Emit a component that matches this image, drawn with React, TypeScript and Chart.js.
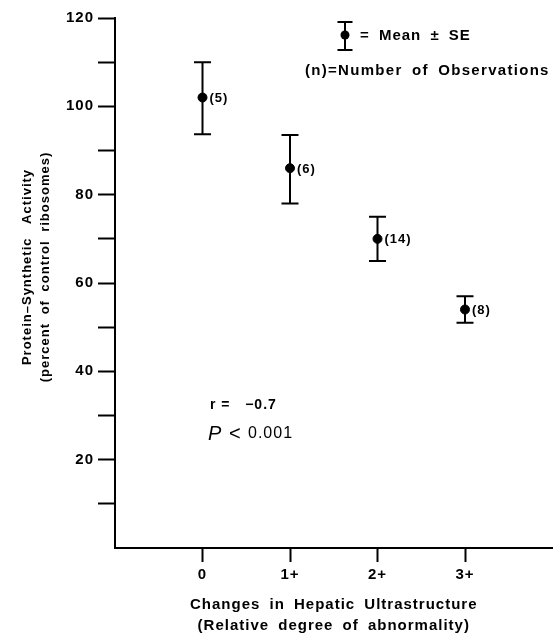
import React, { useEffect, useRef } from 'react';
import { Chart, registerables } from 'chart.js';

Chart.register(...registerables);

const categories = ['0', '1+', '2+', '3+'];
const categoryX = [0, 1, 2, 3];
const meanValues = [102, 86, 70, 54];
const upperValues = [110, 93.5, 75, 57];
const lowerValues = [93.7, 78, 65, 51];
const observationLabels = ['(5)', '(6)', '(14)', '(8)'];
const yTickLabels = [20, 40, 60, 80, 100, 120];

const xTitle = ['Changes in Hepatic Ultrastructure', '(Relative degree of abnormality)'];
const yTitle = ['Protein–Synthetic Activity', '(percent of control ribosomes)'];
const legendLine1 = '= Mean ± SE';
const legendLine2 = '(n)=Number of Observations';
const statR = 'r =   −0.7';
const statP = 'P';
const statLess = '<';
const statPValue = '0.001';

const FONT = '"Liberation Sans", Arial, Helvetica, sans-serif';

function spacing(ctx: any, ls: string, ws: string) {
  try {
    ctx.letterSpacing = ls;
    ctx.wordSpacing = ws;
  } catch (e) {}
}

const overlayPlugin = {
  id: 'overlay',
  beforeLayout(chart: any) {
    spacing(chart.ctx, '1px', '4px');
  },
  beforeDraw(chart: any) {
    spacing(chart.ctx, '1px', '4px');
  },
  beforeDatasetsDraw(chart: any) {
    const { ctx, scales } = chart;
    const x = scales.x;
    const y = scales.y;
    ctx.save();
    ctx.strokeStyle = '#000';
    ctx.lineWidth = 2;
    categoryX.forEach((cx, i) => {
      const px = x.getPixelForValue(cx);
      const yt = y.getPixelForValue(upperValues[i]);
      const yb = y.getPixelForValue(lowerValues[i]);
      ctx.beginPath();
      ctx.moveTo(px, yt);
      ctx.lineTo(px, yb);
      ctx.moveTo(px - 8.5, yt);
      ctx.lineTo(px + 8.5, yt);
      ctx.moveTo(px - 8.5, yb);
      ctx.lineTo(px + 8.5, yb);
      ctx.stroke();
    });
    ctx.restore();
  },
  afterDatasetsDraw(chart: any) {
    const { ctx, scales } = chart;
    const x = scales.x;
    const y = scales.y;
    ctx.save();
    spacing(ctx, '1px', '0px');
    ctx.fillStyle = '#000';
    ctx.font = `bold 13px ${FONT}`;
    ctx.textAlign = 'left';
    ctx.textBaseline = 'middle';
    categoryX.forEach((cx, i) => {
      const px = x.getPixelForValue(cx);
      const py = y.getPixelForValue(meanValues[i]);
      ctx.fillText(observationLabels[i], px + 7, py + 1);
    });
    ctx.restore();
  },
  afterDraw(chart: any) {
    const { ctx } = chart;
    ctx.save();
    ctx.fillStyle = '#000';
    ctx.strokeStyle = '#000';
    // legend glyph
    ctx.lineWidth = 2;
    ctx.beginPath();
    ctx.moveTo(345, 22);
    ctx.lineTo(345, 50);
    ctx.moveTo(337.5, 22);
    ctx.lineTo(352.5, 22);
    ctx.moveTo(337.5, 50);
    ctx.lineTo(352.5, 50);
    ctx.stroke();
    ctx.beginPath();
    ctx.arc(345, 35, 4.5, 0, Math.PI * 2);
    ctx.fill();
    ctx.textAlign = 'left';
    ctx.textBaseline = 'middle';
    spacing(ctx, '1px', '4px');
    ctx.font = `bold 15px ${FONT}`;
    ctx.fillText(legendLine1, 360, 36);
    spacing(ctx, '1.3px', '4px');
    ctx.fillText(legendLine2, 305, 71);
    // stats annotation
    spacing(ctx, '1px', '0px');
    ctx.font = `bold 14px ${FONT}`;
    ctx.fillText(statR, 210, 405);
    ctx.font = `italic 20px ${FONT}`;
    ctx.fillText(statP, 208, 434);
    ctx.font = `20px ${FONT}`;
    ctx.fillText(statLess, 229, 434);
    ctx.font = `16px ${FONT}`;
    ctx.fillText(statPValue, 248, 434);
    // y title
    ctx.translate(27, 267);
    ctx.rotate(-Math.PI / 2);
    ctx.textAlign = 'center';
    ctx.font = `bold 13px ${FONT}`;
    spacing(ctx, '1px', '9px');
    ctx.fillText(yTitle[0], 0, 0);
    spacing(ctx, '1px', '4px');
    ctx.fillText(yTitle[1], 0, 18);
    ctx.restore();
  },
};

export default function App() {
  const canvasRef = useRef<HTMLCanvasElement | null>(null);

  useEffect(() => {
    const canvas = canvasRef.current;
    if (!canvas) return;
    const chart = new Chart(canvas, {
      type: 'scatter',
      data: {
        datasets: [
          {
            data: categoryX.map((cx, i) => ({ x: cx, y: meanValues[i] })),
            backgroundColor: '#000',
            borderColor: '#000',
            pointRadius: 4.5,
            pointHoverRadius: 4.5,
            pointStyle: 'circle',
          },
        ],
      },
      options: {
        responsive: false,
        animation: false,
        devicePixelRatio: 1,
        layout: { padding: { top: 18, right: 3, left: 0, bottom: 0 } },
        plugins: {
          legend: { display: false },
          tooltip: { enabled: false },
          title: { display: false },
        },
        scales: {
          x: {
            type: 'linear',
            min: -1,
            max: 4,
            afterBuildTicks: (scale: any) => {
              scale.ticks = categoryX.map((v) => ({ value: v }));
            },
            afterFit: (scale: any) => {
              scale.height = 89;
            },
            ticks: {
              color: '#000',
              font: { family: FONT, size: 15, weight: 'bold' },
              padding: 4,
              autoSkip: false,
              maxRotation: 0,
              callback: (v: any) => {
                const idx = categoryX.indexOf(Number(v));
                return idx >= 0 ? categories[idx] : '';
              },
            },
            grid: {
              drawOnChartArea: false,
              drawTicks: true,
              tickLength: 14,
              tickWidth: 2,
              tickColor: '#000',
            },
            border: { display: true, color: '#000', width: 2 },
            title: {
              display: true,
              text: xTitle,
              color: '#000',
              font: { family: FONT, size: 15, weight: 'bold', lineHeight: 1.4 },
              padding: { top: 0, bottom: 1 },
            },
          },
          y: {
            type: 'linear',
            min: 0,
            max: 120,
            afterFit: (scale: any) => {
              scale.width = 115;
            },
            ticks: {
              stepSize: 10,
              autoSkip: false,
              color: '#000',
              padding: 4,
              font: { family: FONT, size: 15, weight: 'bold' },
              callback: (v: any) => (yTickLabels.includes(Number(v)) ? String(v) : ''),
            },
            grid: {
              drawOnChartArea: false,
              drawTicks: true,
              tickLength: 17,
              tickWidth: 2,
              tickColor: (c: any) => (c.tick && c.tick.value === 0 ? 'rgba(0,0,0,0)' : '#000'),
            },
            border: { display: true, color: '#000', width: 2 },
            title: { display: false },
          },
        },
      },
      plugins: [overlayPlugin],
    });
    return () => chart.destroy();
  }, []);

  return (
    <div style={{ position: 'absolute', left: 0, top: 0, width: 558, height: 637, background: '#fff' }}>
      <canvas ref={canvasRef} width={558} height={637} style={{ width: 558, height: 637, display: 'block' }} />
    </div>
  );
}
